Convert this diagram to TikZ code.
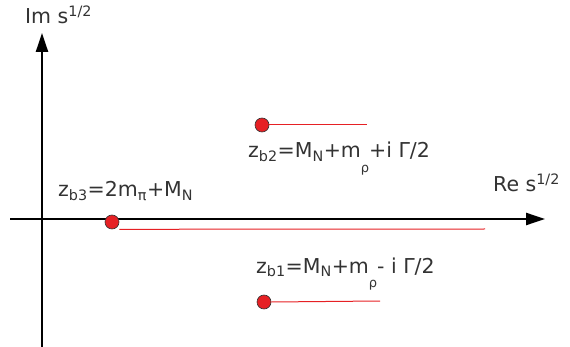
\documentclass[tikz,border=0pt]{standalone}
\usepackage{fontspec}
\setmainfont{DejaVu Sans}
\usetikzlibrary{calc, positioning, arrows.meta}
\definecolor{polered}{RGB}{230,32,36}
\definecolor{labelgrey}{RGB}{51,51,51}
\newcommand{\sbs}[1]{\textsubscript{#1}}
\newcommand{\lowsbs}[1]{\raisebox{-0.7em}{\fontsize{13}{14}\selectfont #1}}
\tikzset{
    axisline/.style={-{Triangle[length=19pt,width=12pt]}, line width=2.4pt, draw=black},
    polept/.style={circle, draw=black!80, line width=0.6pt, fill=polered, minimum size=14pt, inner sep=0pt},
    cutline/.style={draw=polered, line width=1pt},
    poletext/.style={font=\fontsize{20.5}{22}\selectfont, text=labelgrey, inner sep=0pt, anchor=base west}
}
\begin{document}
\begin{tikzpicture}[x=1pt,y=-1pt]
            \useasboundingbox (0,0) rectangle (570,347);
            % Axes
            \coordinate (imlo) at (42,347);
            \coordinate (imhi) at (42,33);
            \coordinate (relo) at (10,219);
            \coordinate (rehi) at (545,219);
            \draw[axisline] (imlo) -- (imhi);
            \draw[axisline] (relo) -- (rehi);
            \node[poletext] (imlab) at (25,24) {Im s\textsuperscript{1/2}};
            \node[poletext] (relab) at (493,192) {Re s\textsuperscript{1/2}};

            % Poles and their cuts
            \node[polept] (b3) at (112,222) {};
            \node[polept] (b2) at (262,125) {};
            \node[polept] (b1) at (264,302) {};
            \coordinate (b3end) at (485,229);
            \coordinate (b2end) at (367,125);
            \coordinate (b1end) at (380,301);
            \draw[cutline] (b3.south -| b3.east) -- (b3end);
            \draw[cutline] (b2.east) -- (b2end);
            \draw[cutline] (b1.east) -- (b1end);

            % Labels
            \node[poletext] (b3lab) at (58,197) {z\sbs{b3}=2m\sbs{π}+M\sbs{N}};
            \node[poletext] (b2lab) at (248,158) {z\sbs{b2}=M\sbs{N}+m\lowsbs{ρ}+i Γ/2};
            \node[poletext] (b1lab) at (256,273) {z\sbs{b1}=M\sbs{N}+m\lowsbs{ρ}- i Γ/2};
        \end{tikzpicture}
\end{document}
